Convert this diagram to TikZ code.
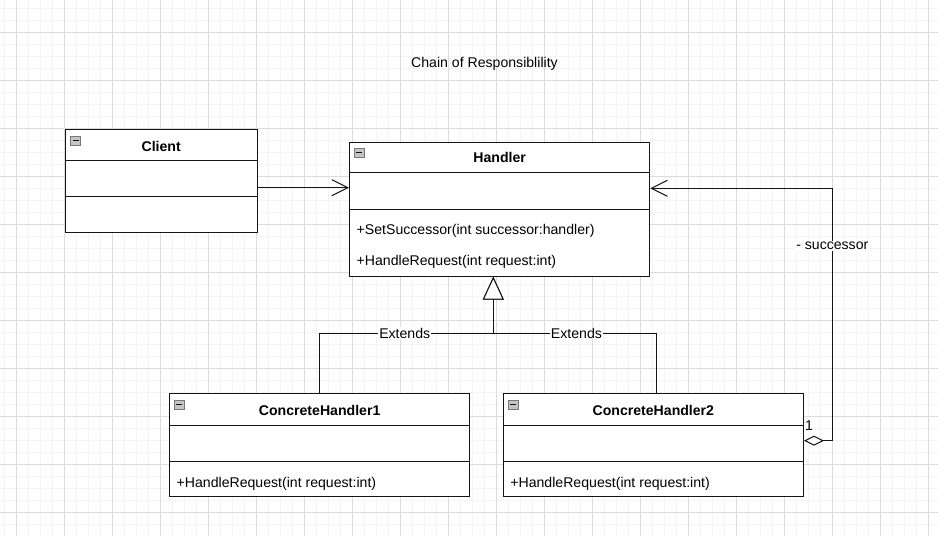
\documentclass[tikz,border=0pt]{standalone}
\usepackage{fontspec}
\setmainfont{Liberation Sans}
\usetikzlibrary{arrows.meta,calc}
\definecolor{gridmajor}{RGB}{220,220,220}
\definecolor{gridminor}{RGB}{244,244,244}
\definecolor{iconfill}{RGB}{196,196,196}
\definecolor{iconline}{RGB}{120,120,120}
\definecolor{linecol}{RGB}{20,20,20}
\newcommand{\diagfont}{\fontsize{14.1}{16}\selectfont}
\begin{document}
\begin{tikzpicture}[x=1pt,y=-1pt,
  cls/.style={draw=linecol, line width=1pt, fill=white, inner sep=0pt, anchor=north west},
  sepline/.style={draw=linecol, line width=1pt},
  ttl/.style={font=\diagfont\bfseries, inner sep=0pt, anchor=base},
  mth/.style={font=\diagfont, inner sep=0pt, anchor=base west},
  plain/.style={font=\diagfont, inner sep=0pt},
  lbl/.style={font=\diagfont, fill=white, inner sep=0.8pt},
  icon/.style={draw=iconline, fill=iconfill, line width=0.6pt, minimum width=10pt, minimum height=9pt, inner sep=0pt,
     path picture={\draw[linecol, line width=1pt] ($(path picture bounding box.west)+(2,0)$) -- ($(path picture bounding box.east)+(-2,0)$);}},
  conn/.style={draw=linecol, line width=1pt},
  assoc/.style={conn, -{Straight Barb[length=16pt,width=16pt]}},
  gen/.style={conn, -{Triangle[length=23pt,width=21pt,fill=white]}},
  aggr/.style={conn, {Diamond[length=20pt,width=10pt,fill=white]}-{Straight Barb[length=16pt,width=16pt]}},
  minorgrid/.style={draw=gridminor, line width=1pt},
  majorgrid/.style={draw=gridmajor, line width=1pt}
]
\useasboundingbox (0,0) rectangle (938,536);
\fill[white] (0,0) rectangle (938,536);
% grid
\foreach \x in {4,16,...,938} \draw[minorgrid] (\x,0) -- (\x,536);
\foreach \y in {8,20,...,536} \draw[minorgrid] (0,\y) -- (938,\y);
\foreach \x in {16,64,...,938} \draw[majorgrid] (\x,0) -- (\x,536);
\foreach \y in {32,80,...,536} \draw[majorgrid] (0,\y) -- (938,\y);

% title
\node[plain, anchor=base] (title) at (484.5,67.7) {Chain of Responsiblility};

% Client
\node[cls, minimum width=192pt, minimum height=103pt] (client) at (64.7,129.3) {};
\draw[sepline] ($(client.north west)+(0,31.4)$) -- ($(client.north east)+(0,31.4)$);
\draw[sepline] ($(client.north west)+(0,67.4)$) -- ($(client.north east)+(0,67.4)$);
\node[ttl] (client-t) at ($(client.north)+(0,21.7)$) {Client};
\node[icon] (client-i) at ($(client.north west)+(10.8,11.2)$) {};

% Handler
\node[cls, minimum width=300.3pt, minimum height=134pt] (handler) at (349,141.7) {};
\draw[sepline] ($(handler.north west)+(0,31)$) -- ($(handler.north east)+(0,31)$);
\draw[sepline] ($(handler.north west)+(0,67.3)$) -- ($(handler.north east)+(0,67.3)$);
\node[ttl] (handler-t) at ($(handler.north)+(0,21)$) {Handler};
\node[icon] (handler-i) at ($(handler.north west)+(10.3,11)$) {};
\node[mth] (handler-m1) at ($(handler.north west)+(7.5,93)$) {+SetSuccessor(int successor:handler)};
\node[mth] (handler-m2) at ($(handler.north west)+(7.5,123.8)$) {+HandleRequest(int request:int)};

% ConcreteHandler1
\node[cls, minimum width=300.3pt, minimum height=102.7pt] (ch1) at (169,393.3) {};
\draw[sepline] ($(ch1.north west)+(0,31.7)$) -- ($(ch1.north east)+(0,31.7)$);
\draw[sepline] ($(ch1.north west)+(0,67.7)$) -- ($(ch1.north east)+(0,67.7)$);
\node[ttl] (ch1-t) at ($(ch1.north)+(0,21.7)$) {ConcreteHandler1};
\node[icon] (ch1-i) at ($(ch1.north west)+(10.3,11.6)$) {};
\node[mth] (ch1-m) at ($(ch1.north west)+(7.5,94)$) {+HandleRequest(int request:int)};

% ConcreteHandler2
\node[cls, minimum width=300.3pt, minimum height=102.7pt] (ch2) at (502.7,393.3) {};
\draw[sepline] ($(ch2.north west)+(0,31.7)$) -- ($(ch2.north east)+(0,31.7)$);
\draw[sepline] ($(ch2.north west)+(0,67.7)$) -- ($(ch2.north east)+(0,67.7)$);
\node[ttl] (ch2-t) at ($(ch2.north)+(0,21.7)$) {ConcreteHandler2};
\node[icon] (ch2-i) at ($(ch2.north west)+(10.3,11.6)$) {};
\node[mth] (ch2-m) at ($(ch2.north west)+(7.5,94)$) {+HandleRequest(int request:int)};

% Client -> Handler
\draw[assoc] ($(client.north east)+(0,58.4)$) -- ($(handler.north west)+(0,46)$);

% Generalisation
\coordinate (jn) at (493.3,333.3);
\draw[gen] (ch1.north) |- node[lbl,pos=0.745] (ext1) {Extends} (jn) -- (jn |- handler.south);
\draw[gen] ($(ch2.north)+(3,0)$) |- node[lbl,pos=0.745] (ext2) {Extends} (jn) -- (jn |- handler.south);

% successor aggregation
\coordinate (bend) at (832.3,440.7);
\draw[aggr] ($(ch2.north east)+(0,47.4)$) -- (bend) |- node[lbl,pos=0.386] (succ) {- successor} ($(handler.north east)+(0,46.6)$);
\node[plain, anchor=base west] (one) at (805,430) {1};
\end{tikzpicture}
\end{document}
